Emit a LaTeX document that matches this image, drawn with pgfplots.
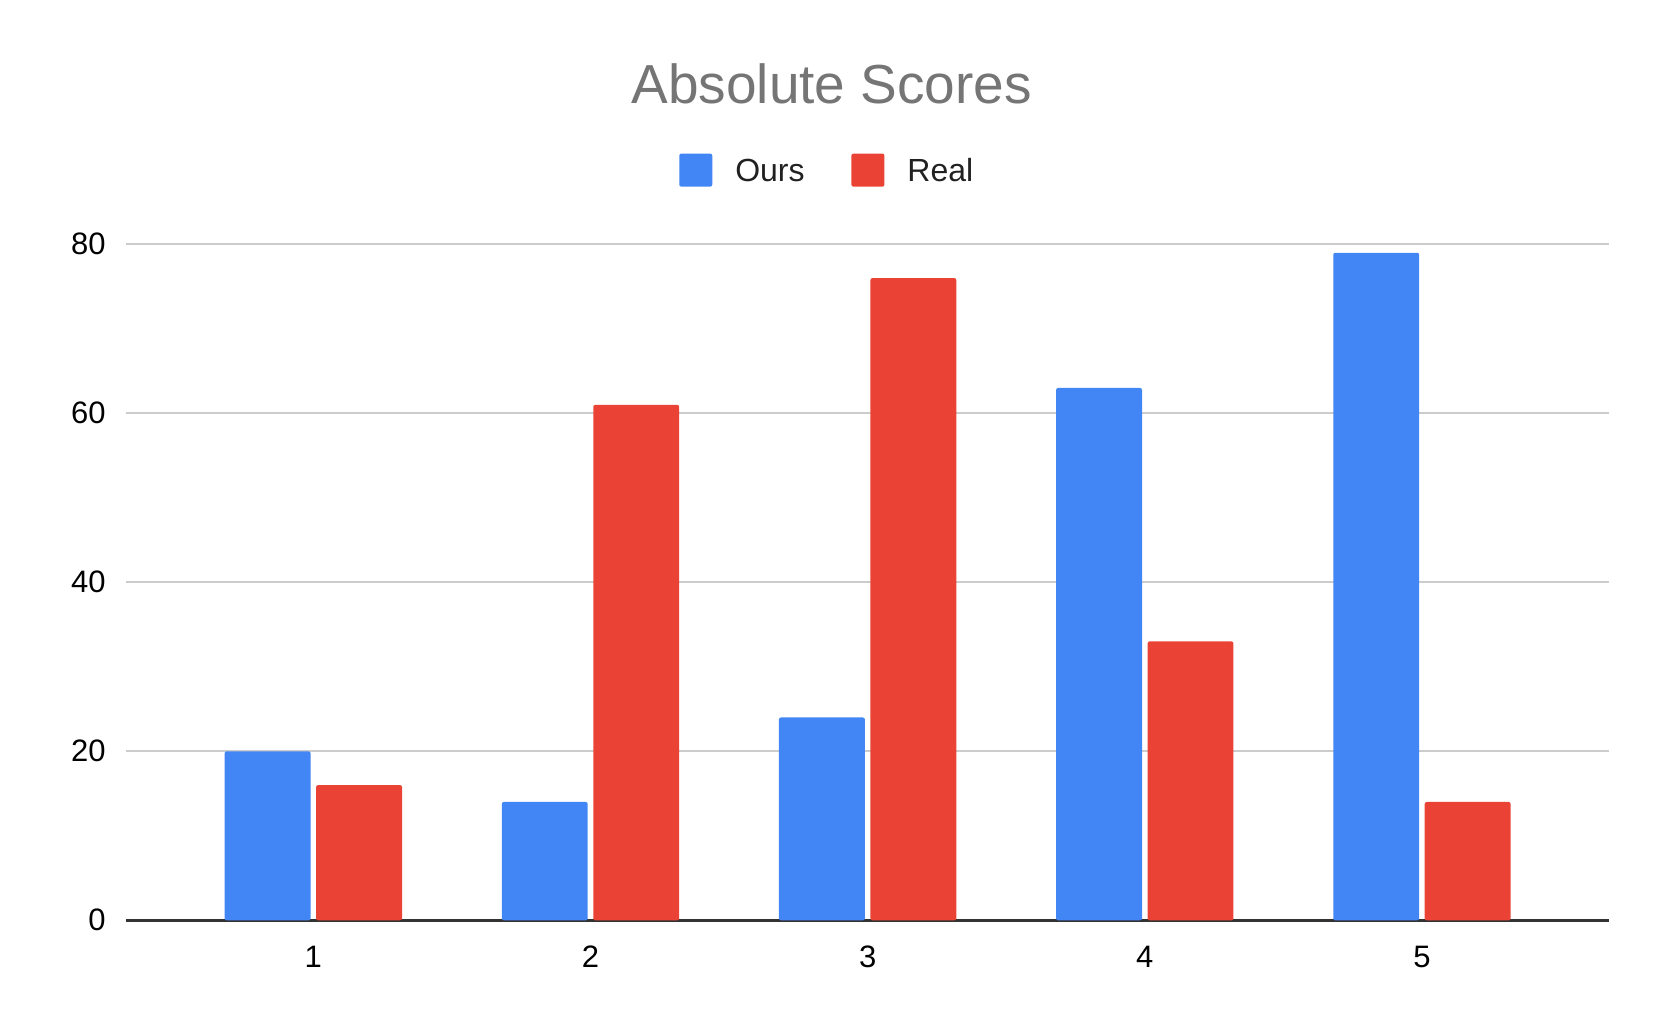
\documentclass[border=0pt]{standalone}
\usepackage{fontspec}
\setmainfont{Liberation Sans}
\usepackage{pgfplots}
\pgfplotsset{compat=1.18}

\definecolor{gblue}{HTML}{4285F4}
\definecolor{gred}{HTML}{EA4335}
\definecolor{titlegray}{HTML}{757575}
\definecolor{gridgray}{HTML}{CCCCCC}
\definecolor{axisdark}{HTML}{333333}

\begin{document}
\begin{tikzpicture}
% fixed page: 1661x1027 px at 2 px per pt
\path[use as bounding box] (-63pt,-53.35pt) rectangle (767.5pt,460.15pt);
\begin{axis}[
    at={(0,0)}, anchor=south west,
    scale only axis,
    width=741.65pt, height=338pt,
    xmin=0.324, xmax=5.676,
    ymin=0, ymax=80,
    xtick={1,2,3,4,5},
    ytick={0,20,40,60,80},
    axis lines*=left,
    y axis line style={draw=none},
    x axis line style={draw=axisdark, line width=1.4pt},
    major tick length=0pt,
    ymajorgrids,
    grid style={draw=gridgray, line width=1pt},
    /pgf/number format/assume math mode=true,
    ticklabel style={font=\fontsize{15.5}{18}\selectfont, text=black, inner sep=0pt},
    yticklabel style={anchor=east, xshift=-10pt},
    xticklabel style={anchor=north, yshift=-12.7pt},
    legend columns=2,
    legend style={
        at={(0.373,1.1087)}, anchor=west,
        draw=none, fill=none, inner sep=0pt, outer sep=0pt,
        font=\fontsize{16}{19}\selectfont, text=black!87,
        cells={anchor=base, inner sep=0pt},
        /tikz/every odd column/.append style={column sep=9.5pt},
        /tikz/every even column/.append style={column sep=21.4pt},
    },
    legend image code/.code={
        \fill[#1, rounded corners=1pt] (0pt,-2.8pt) rectangle (16.5pt,13.7pt);
    },
]
\addplot[ybar, bar width=0.310, bar shift=-0.165, fill=gblue, draw=none, rounded corners=1pt]
    coordinates {(1,20) (2,14) (3,24) (4,63) (5,79)};
\addlegendentry{Ours}
\addplot[ybar, bar width=0.310, bar shift=0.165, fill=gred, draw=none, rounded corners=1pt]
    coordinates {(1,16) (2,61) (3,76) (4,33) (5,14)};
\addlegendentry{Real}
\end{axis}
\node[anchor=base, inner sep=0pt, text=titlegray, font=\fontsize{27.5}{33}\selectfont]
    at (352.85pt,408.15pt) {Absolute Scores};
\end{tikzpicture}
\end{document}
